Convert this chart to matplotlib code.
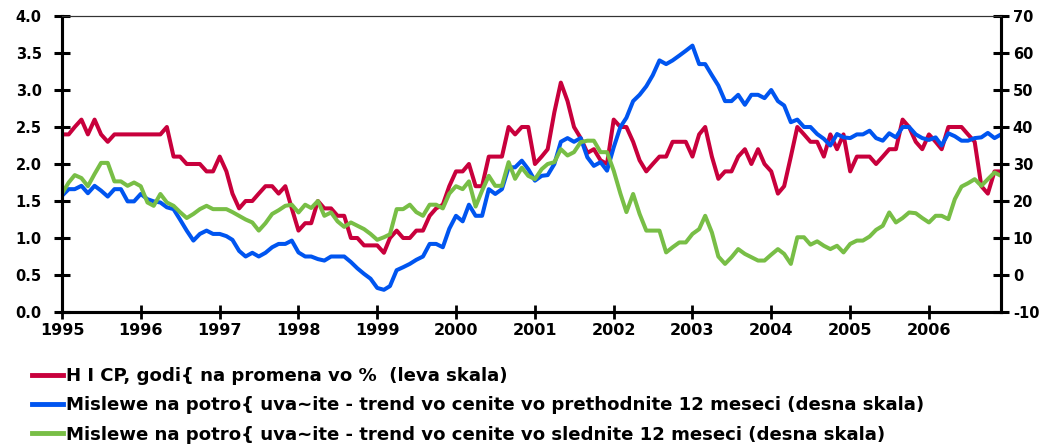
import matplotlib
matplotlib.use("Agg")
import matplotlib.pyplot as plt
import pandas as pd
import numpy as np

plt.rcParams['font.family'] = ['DejaVu Sans']

months = pd.date_range('1995-01-01', periods=144, freq='MS')
years = list(range(1995, 2007))

hicp = [
    2.4, 2.4, 2.5, 2.6, 2.4, 2.6, 2.4, 2.3, 2.4, 2.4, 2.4, 2.4,
    2.4, 2.4, 2.4, 2.4, 2.5, 2.1, 2.1, 2.0, 2.0, 2.0, 1.9, 1.9,
    2.1, 1.9, 1.6, 1.4, 1.5, 1.5, 1.6, 1.7, 1.7, 1.6, 1.7, 1.4,
    1.1, 1.2, 1.2, 1.5, 1.4, 1.4, 1.3, 1.3, 1.0, 1.0, 0.9, 0.9,
    0.9, 0.8, 1.0, 1.1, 1.0, 1.0, 1.1, 1.1, 1.3, 1.4, 1.45, 1.7,
    1.9, 1.9, 2.0, 1.7, 1.7, 2.1, 2.1, 2.1, 2.5, 2.4, 2.5, 2.5,
    2.0, 2.1, 2.2, 2.7, 3.1, 2.85, 2.5, 2.35, 2.15, 2.2, 2.05, 2.0,
    2.6, 2.5, 2.5, 2.3, 2.05, 1.9, 2.0, 2.1, 2.1, 2.3, 2.3, 2.3,
    2.1, 2.4, 2.5, 2.1, 1.8, 1.9, 1.9, 2.1, 2.2, 2.0, 2.2, 2.0,
    1.9, 1.6, 1.7, 2.1, 2.5, 2.4, 2.3, 2.3, 2.1, 2.4, 2.2, 2.4,
    1.9, 2.1, 2.1, 2.1, 2.0, 2.1, 2.2, 2.2, 2.6, 2.5, 2.3, 2.2,
    2.4, 2.3, 2.2, 2.5, 2.5, 2.5, 2.4, 2.3, 1.7, 1.6, 1.9, 1.9,
]

past_trend = [
    21.4, 23.2, 23.2, 24.1, 22.1, 24.1, 22.8, 21.2, 23.2, 23.2, 19.9, 19.9,
    21.9, 20.5, 19.9, 19.6, 18.3, 17.8, 15.0, 12.0, 9.3, 11.1, 12.0, 11.1,
    11.1, 10.5, 9.5, 6.5, 5.0, 6.0, 5.0, 6.0, 7.5, 8.4, 8.4, 9.3,
    6.1, 5.0, 5.0, 4.3, 3.9, 5.0, 5.0, 5.0, 3.5, 1.8, 0.3, -1.0,
    -3.5, -4.0, -3.0, 1.3, 2.1, 3.0, 4.1, 5.0, 8.4, 8.4, 7.5, 12.5,
    16.0, 14.5, 19.0, 16.0, 16.0, 23.2, 21.9, 23.2, 29.1, 29.1, 30.9, 28.6,
    25.5, 26.8, 27.0, 30.0, 36.0, 37.0, 36.0, 37.0, 31.8, 29.5, 30.5, 28.2,
    34.5, 40.0, 42.5, 47.0, 48.7, 51.0, 54.0, 58.0, 57.0, 58.0, 59.3, 60.6,
    62.0, 57.0, 57.0, 54.0, 51.2, 47.0, 47.0, 48.7, 46.0, 48.7, 48.7, 47.8,
    50.0, 47.0, 45.8, 41.3, 42.0, 40.0, 40.0, 38.1, 36.8, 35.0, 38.1, 37.2,
    37.0, 38.0, 38.0, 39.0, 37.0, 36.3, 38.3, 37.2, 40.0, 40.0, 38.0, 37.0,
    36.5, 37.2, 35.0, 38.3, 37.5, 36.3, 36.3, 37.0, 37.2, 38.4, 37.0, 38.0,
]

future_trend = [
    22.0, 25.0, 27.0, 26.2, 24.0, 27.3, 30.3, 30.3, 25.3, 25.3, 24.1, 25.0,
    24.0, 19.6, 18.7, 21.9, 19.6, 18.7, 17.0, 15.4, 16.5, 17.8, 18.7, 17.8,
    17.8, 17.8, 17.0, 16.0, 15.0, 14.2, 12.0, 14.0, 16.5, 17.5, 18.7, 19.0,
    16.9, 19.0, 18.1, 20.0, 16.0, 16.9, 14.5, 13.0, 14.2, 13.3, 12.4, 11.1,
    9.5, 10.2, 11.0, 17.8, 17.8, 19.0, 17.0, 16.0, 19.0, 19.0, 18.0, 22.0,
    24.0, 23.2, 25.3, 18.5, 22.8, 26.8, 24.1, 24.1, 30.5, 26.0, 29.0, 26.8,
    25.9, 28.6, 30.0, 30.5, 34.0, 32.3, 33.2, 35.9, 36.3, 36.3, 33.2, 33.2,
    28.2, 22.0, 17.0, 21.9, 16.5, 12.0, 12.0, 12.0, 6.1, 7.5, 8.8, 8.8,
    11.1, 12.4, 16.0, 11.5, 5.0, 3.0, 4.8, 7.0, 5.7, 4.8, 3.9, 3.9,
    5.5, 7.0, 5.7, 3.0, 10.2, 10.2, 8.2, 9.1, 7.9, 7.0, 7.9, 6.1,
    8.4, 9.3, 9.3, 10.4, 12.2, 13.3, 16.9, 14.2, 15.4, 16.9, 16.7, 15.4,
    14.2, 16.0, 16.0, 15.1, 20.5, 23.9, 24.8, 25.9, 24.1, 25.9, 27.7, 26.8,
]

labels = [
    "H I CP, godi{ na promena vo %  (leva skala)",
    "Mislewe na potro{ uva~ite - trend vo cenite vo prethodnite 12 meseci (desna skala)",
    "Mislewe na potro{ uva~ite - trend vo cenite vo slednite 12 meseci (desna skala)",
]
colors = ["#C8003C", "#0055F0", "#78BE46"]
left_ticks = np.arange(0, 4.01, 0.5)
right_ticks = np.arange(-10, 71, 10)

fig = plt.figure(figsize=(10.51, 4.45), dpi=100)
ax = fig.add_axes([62/1051, 1-312/445, (1001-62)/1051, (312-16)/445])
ax2 = ax.twinx()

lw = 2.9
l1, = ax.plot(months, hicp, color=colors[0], lw=lw, label=labels[0])
l2, = ax2.plot(months, past_trend, color=colors[1], lw=lw, label=labels[1])
l3, = ax2.plot(months, future_trend, color=colors[2], lw=lw, label=labels[2])

ax.set_xlim(months[0], months[-1])
ax.set_ylim(0, 4)
ax2.set_ylim(-10, 70)
ax.set_yticks(left_ticks)
ax.set_yticklabels([f"{v:.1f}" for v in left_ticks])
ax2.set_yticks(right_ticks)
ax2.set_yticklabels([f"{int(v)}" for v in right_ticks])
ax.set_xticks([pd.Timestamp(f"{y}-01-01") for y in years])
ax.set_xticklabels([str(y) for y in years])

for a in (ax, ax2):
    for s in ('left', 'right', 'bottom'):
        a.spines[s].set_linewidth(2.2)
        a.spines[s].set_color('black')
    a.spines['top'].set_linewidth(0.8)
    a.spines['top'].set_color('#333333')

ax.tick_params(axis='y', direction='inout', length=11, width=2.2, pad=9,
               labelsize=10.5)
ax.tick_params(axis='x', direction='inout', length=10, width=2.0, pad=3,
               labelsize=11.5)
ax2.tick_params(axis='y', direction='inout', length=11, width=2.2, pad=3,
                labelsize=10.5)
for lab in ax.get_xticklabels() + ax.get_yticklabels() + ax2.get_yticklabels():
    lab.set_fontweight('bold')

leg = fig.legend(handles=[l1, l2, l3], loc='upper left',
                 bbox_to_anchor=(0.017, 0.208), frameon=False,
                 handlelength=1.7, handletextpad=0.15, labelspacing=0.62,
                 borderpad=0.3,
                 prop={'family': 'DejaVu Sans', 'weight': 'bold', 'size': 13.1})
for h in leg.legend_handles:
    h.set_linewidth(3.5)

fig.savefig("out.png", dpi=100)
